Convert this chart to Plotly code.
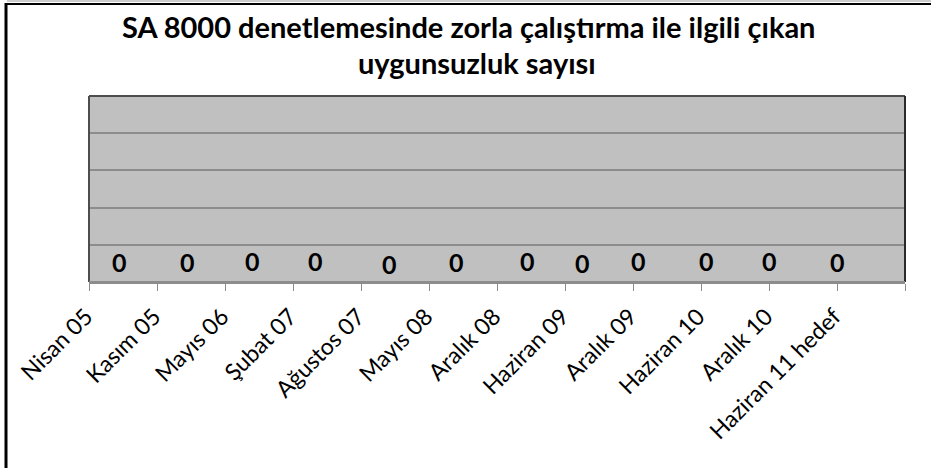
import plotly.graph_objects as go

categories = ["Nisan 05", "Kasım 05", "Mayıs 06", "Şubat 07", "Ağustos 07", "Mayıs 08",
              "Aralık 08", "Haziran 09", "Aralık 09", "Haziran 10", "Aralık 10", "Haziran 11 hedef"]
values = [0, 0, 0, 0, 0, 0, 0, 0, 0, 0, 0, 0]
title_lines = ["SA 8000 denetlemesinde zorla çalıştırma ile ilgili çıkan", "uygunsuzluk sayısı"]

# styling offsets for the hand-placed data labels (pixels)
label_dx = [-4, -4, -7, -12, -6, -7, -4, -17, -29, -29, -34, -34]
label_dy = [0, 0, 1, 1, -2, 0, 1, -1, 1, 1, 1, 0]

FONT = "Lato"
W, H = 931, 468
L, R, T, B = 89, 26, 96, 186
pw, ph = W - L - R, H - T - B

def px_x(p):
    return (p - L) / pw

def px_y(p):
    return 1 + (T - p) / ph

fig = go.Figure()
xs = [i + 0.5 for i in range(len(categories))]
fig.add_trace(go.Scatter(x=xs, y=values, mode="markers",
                         marker=dict(size=1, color="rgba(0,0,0,0)"),
                         hoverinfo="skip", showlegend=False))

for i, v in enumerate(values):
    fig.add_annotation(x=xs[i], y=v, xref="x", yref="y", text=f"<b>{v}</b>",
                       showarrow=False, yanchor="middle", xanchor="center",
                       xshift=label_dx[i], yshift=20 + label_dy[i],
                       font=dict(family=FONT, size=25, color="black"))

fig.add_annotation(x=px_x(468), y=px_y(27), xref="paper", yref="paper",
                   text=f"<b>{title_lines[0]}</b>", showarrow=False,
                   xanchor="center", yanchor="middle",
                   font=dict(family=FONT, size=29, color="black"))
fig.add_annotation(x=px_x(477), y=px_y(63), xref="paper", yref="paper",
                   text=f"<b>{title_lines[1]}</b>", showarrow=False,
                   xanchor="center", yanchor="middle",
                   font=dict(family=FONT, size=29, color="black"))

shapes = [
    # plot area border (left, top, right, bottom)
    dict(type="line", xref="paper", yref="paper", x0=0, x1=0, y0=0, y1=1,
         line=dict(color="#4d4d4d", width=2)),
    dict(type="line", xref="paper", yref="paper", x0=0, x1=1, y0=1, y1=1,
         line=dict(color="#4d4d4d", width=2)),
    dict(type="line", xref="paper", yref="paper", x0=1, x1=1, y0=0, y1=1,
         line=dict(color="#2a2a2a", width=2)),
    dict(type="line", xref="paper", yref="paper", x0=0, x1=1, y0=0, y1=0,
         line=dict(color="#8c8c8c", width=2)),
    # outer chart frame
    dict(type="line", xref="paper", yref="paper", x0=px_x(6), x1=px_x(6), y0=px_y(3), y1=px_y(470),
         line=dict(color="black", width=3)),
    dict(type="line", xref="paper", yref="paper", x0=px_x(5), x1=px_x(935), y0=px_y(4), y1=px_y(4),
         line=dict(color="black", width=2)),
    dict(type="line", xref="paper", yref="paper", x0=px_x(7), x1=px_x(935), y0=px_y(1), y1=px_y(1),
         line=dict(color="#9a9a9a", width=1)),
]

fig.update_layout(
    width=W, height=H,
    margin=dict(l=L, r=R, t=T, b=B, autoexpand=False),
    paper_bgcolor="white",
    plot_bgcolor="#c0c0c0",
    showlegend=False,
    shapes=shapes,
    xaxis=dict(range=[0, len(categories)],
               tickmode="array",
               tickvals=list(range(len(categories) + 1)),
               ticktext=categories + [""],
               tickangle=-45,
               ticks="outside", ticklen=7, tickwidth=1, tickcolor="#8c8c8c",
               ticklabelstandoff=3, ticklabelshift=-3,
               showline=True, linecolor="#8c8c8c", linewidth=2,
               showgrid=False, zeroline=False, automargin=False,
               tickfont=dict(family=FONT, size=23, color="black")),
    yaxis=dict(range=[0, 5], dtick=1, showticklabels=False,
               showgrid=True, gridcolor="#8c8c8c", gridwidth=2,
               zeroline=False, showline=False, ticks="", automargin=False),
)

fig.write_html("out.html", config={"displayModeBar": False},
               post_script="document.body.style.margin='0';document.body.style.overflow='hidden';")
